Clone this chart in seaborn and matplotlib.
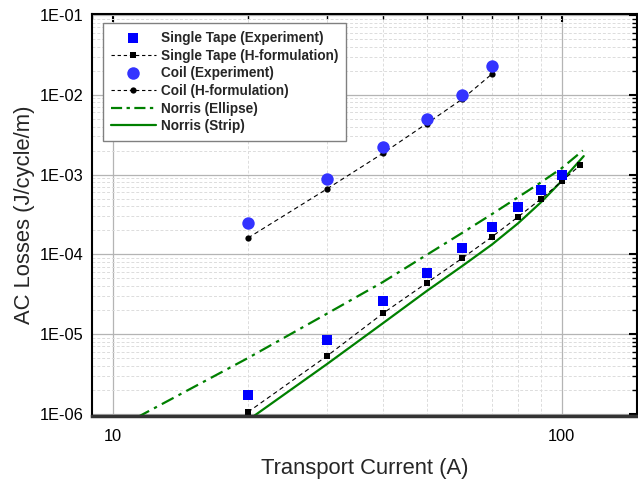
import numpy as np
import pandas as pd
import matplotlib
matplotlib.use('Agg')
import matplotlib.pyplot as plt
import matplotlib.ticker as mticker
from matplotlib.lines import Line2D
import seaborn as sns

# valores
tape_x = [20, 30, 40, 50, 60, 70, 80, 90, 100]
tape_exp = [1.72e-6, 8.4e-6, 2.6e-5, 5.9e-5, 1.19e-4, 2.17e-4, 3.87e-4, 6.37e-4, 1.0e-3]
tape_h_x = [20, 30, 40, 50, 60, 70, 80, 90, 100, 110]
tape_h = [1.05e-6, 5.3e-6, 1.82e-5, 4.36e-5, 8.9e-5, 1.66e-4, 2.95e-4, 4.96e-4, 8.2e-4, 1.31e-3]

coil_x = [20, 30, 40, 50, 60, 70]
coil_exp = [2.47e-4, 8.7e-4, 2.19e-3, 4.95e-3, 1.0e-2, 2.3e-2]
coil_h = [1.6e-4, 6.6e-4, 1.85e-3, 4.34e-3, 8.8e-3, 1.83e-2]

ellipse_x = [10, 20, 30, 40, 50, 60, 70, 80, 90, 100, 111.5]
ellipse_y = [6.2e-7, 5.0e-6, 1.8e-5, 4.5e-5, 9.8e-5, 1.85e-4, 3.2e-4, 5.2e-4, 8.0e-4, 1.2e-3, 2.0e-3]
strip_x = [20, 30, 40, 50, 60, 70, 80, 90, 100, 112]
strip_y = [8.3e-7, 4.2e-6, 1.37e-5, 3.45e-5, 7.1e-5, 1.33e-4, 2.45e-4, 4.5e-4, 8.3e-4, 1.7e-3]

LABELS = ['Single Tape (Experiment)', 'Single Tape (H-formulation)', 'Coil (Experiment)',
          'Coil (H-formulation)', 'Norris (Ellipse)', 'Norris (Strip)']

AZUL = '#0000FF'
AZUL_C = '#3333FF'
VERDE = '#008000'

sns.set_style('white')
plt.rcParams['font.family'] = ['Liberation Sans', 'DejaVu Sans']

fig = plt.figure(figsize=(6.38, 4.79), dpi=100)
ax = fig.add_axes([0.144, 0.1305, 0.854, 0.8403])
ax.set_xscale('log')
ax.set_yscale('log')

df_ell = pd.DataFrame({'x': ellipse_x, 'y': ellipse_y})
df_str = pd.DataFrame({'x': strip_x, 'y': strip_y})
sns.lineplot(data=df_ell, x='x', y='y', color=VERDE, lw=1.6, ax=ax,
             estimator=None, sort=False).lines[-1].set_dashes((6, 2.5, 1.5, 2.5))
sns.lineplot(data=df_str, x='x', y='y', color=VERDE, lw=1.6, ax=ax, estimator=None, sort=False)

sns.lineplot(x=tape_h_x, y=tape_h, color='black', lw=0.8, marker='s', markersize=4,
             markeredgewidth=0, ax=ax, estimator=None, sort=False).lines[-1].set_dashes((4, 3))
sns.lineplot(x=coil_x, y=coil_h, color='black', lw=0.8, marker='o', markersize=4.5,
             markeredgewidth=0, ax=ax, estimator=None, sort=False).lines[-1].set_dashes((4, 3))

sns.scatterplot(x=tape_x, y=tape_exp, color=AZUL, marker='s', s=48, linewidth=0, ax=ax, zorder=5)
sns.scatterplot(x=coil_x, y=coil_exp, color=AZUL_C, marker='o', s=80, linewidth=0, ax=ax, zorder=5)

ax.set_xlim(8.98, 147)
ax.set_ylim(9.25e-7, 0.103)

ax.yaxis.set_major_locator(mticker.LogLocator(base=10, numticks=10))
ax.yaxis.set_minor_locator(mticker.LogLocator(base=10, subs=np.arange(2, 10), numticks=20))
ax.yaxis.set_major_formatter(mticker.FuncFormatter(lambda v, p: f'1E-{int(round(-np.log10(v))):02d}'))
ax.yaxis.set_minor_formatter(mticker.NullFormatter())
ax.xaxis.set_major_formatter(mticker.FuncFormatter(lambda v, p: f'{v:g}'))
ax.xaxis.set_minor_formatter(mticker.NullFormatter())

ax.grid(True, which='major', color='#b4b4b4', lw=0.9, ls='-')
ax.grid(True, which='minor', color='#dcdcdc', lw=0.7, ls=(0, (3, 2)))
ax.set_axisbelow(True)

ax.tick_params(which='both', direction='in', top=True, right=True, colors='black')
ax.tick_params(which='major', length=6, width=1.5, labelsize=11.8)
ax.tick_params(axis='y', which='major', pad=6)
ax.tick_params(axis='x', which='major', pad=9)
ax.tick_params(which='minor', length=3.5, width=1.0)
for s in ax.spines.values():
    s.set_linewidth(1.5)
    s.set_color('black')
ax.spines['bottom'].set_color('#333333')
ax.spines['bottom'].set_linewidth(2.5)

ax.set_xlabel('Transport Current (A)', fontsize=15.8, labelpad=10)
ax.set_ylabel('AC Losses (J/cycle/m)', fontsize=15.8, labelpad=3)

handles = [
    Line2D([], [], ls='none', marker='s', color=AZUL, ms=7, mew=0),
    Line2D([], [], ls=(0, (3, 2.5)), lw=0.8, color='black', marker='s', ms=4, mew=0),
    Line2D([], [], ls='none', marker='o', color=AZUL_C, ms=9, mew=0),
    Line2D([], [], ls=(0, (3, 2.5)), lw=0.8, color='black', marker='o', ms=4.5, mew=0),
    Line2D([], [], ls=(0, (5, 2, 1.5, 2)), lw=1.6, color=VERDE),
    Line2D([], [], ls='-', lw=1.6, color=VERDE),
]
leg = ax.legend(handles, LABELS, loc='upper left', bbox_to_anchor=(0.02, 0.977), borderaxespad=0,
                fancybox=False, framealpha=1, edgecolor='#808080', handlelength=3.3,
                prop={'size': 9.8, 'weight': 'bold'}, labelspacing=0.26, handletextpad=0.35,
                borderpad=0.6)
leg.get_frame().set_linewidth(1.0)

fig.savefig('out.png', dpi=100, facecolor='white')
